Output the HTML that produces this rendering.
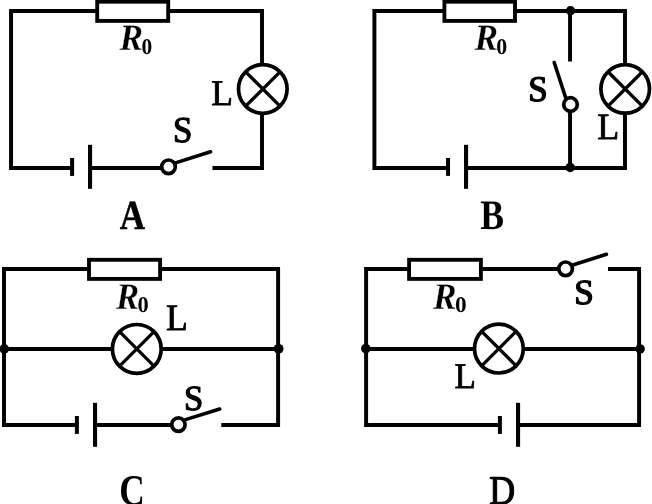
<!DOCTYPE html>
<html>
<head>
<meta charset="utf-8">
<title>Circuit diagrams A B C D</title>
<style>
html,body{margin:0;padding:0;background:#fff;}
body{width:652px;height:504px;overflow:hidden;}
svg{display:block;will-change:transform;}
text{font-family:"Liberation Serif",serif;font-size:40px;fill:#000;text-rendering:geometricPrecision;}
.reg{font-weight:normal;font-style:normal;}
.bold{font-weight:bold;font-style:normal;}
.bi{font-weight:bold;font-style:italic;}
.w{fill:none;stroke:#000;stroke-width:3.95;stroke-linecap:butt;stroke-linejoin:miter;}
.p{fill:none;stroke:#000;stroke-width:4.1;}
.s{fill:none;stroke:#000;stroke-width:4.0;}
.r{fill:#fff;stroke:#000;stroke-width:3.85;}
.c{fill:#fff;stroke:#000;stroke-width:3.7;}
.x{fill:none;stroke:#000;stroke-width:3.3;}
.arm{fill:none;stroke:#000;stroke-width:3.6;stroke-linecap:round;}
.dot{fill:#000;}
</style>
</head>
<body>
<svg width="652" height="504" viewBox="0 0 652 504">
<rect x="0" y="0" width="652" height="504" fill="#fff"/>
<g id="A">
<path class="w" d="M97 10.95 H11.05 V167.9 H72.1"/>
<path class="w" d="M168 10.95 H262.0 V64"/>
<path class="w" d="M262.0 113 V167.9 H212.5"/>
<path class="w" d="M90 167.9 H162"/>
<rect class="r" x="97.20" y="1.70" width="71.00" height="19.20"/>
<line class="s" x1="72.1" y1="158" x2="72.1" y2="175.9"/>
<line class="p" x1="90.05" y1="144.8" x2="90.05" y2="188.8"/>
<circle class="c" cx="262.80" cy="89.00" r="24.30"/><path class="x" d="M245.62 71.82 L279.98 106.18 M279.98 71.82 L245.62 106.18"/>
<circle class="c" cx="168.5" cy="166.8" r="6.8"/>
<line class="arm" x1="175.5" y1="162.9" x2="210.6" y2="151.8"/>
<text class="bi" transform="matrix(0.8844 0 0 0.9316 119.402 50.450)" stroke="#fff" stroke-width="0.330" stroke-linejoin="round">R</text>
<text class="bold" transform="matrix(0.5368 0 0 0.5631 141.382 53.980)">0</text>
<text class="reg" transform="matrix(0.8909 0 0 0.9049 211.273 104.800)" stroke="#000" stroke-width="0.891" stroke-linejoin="round">L</text>
<text class="reg" transform="matrix(0.8719 0 0 0.9116 173.067 141.744)" stroke="#000" stroke-width="1.346" stroke-linejoin="round">S</text>
<text class="bold" transform="matrix(0.8793 0 0 1.0376 119.757 228.800)" stroke="#000" stroke-width="0.417" stroke-linejoin="round">A</text>
</g>
<g id="B">
<path class="w" d="M445 10.95 H374.4 V167.9 H448"/>
<path class="w" d="M515 10.95 H625.0 V64"/>
<path class="w" d="M625.0 113 V167.9 H466"/>
<path class="w" d="M570.05 10.95 V61.5"/>
<path class="w" d="M570.05 111 V167.9"/>
<rect class="r" x="444.40" y="1.70" width="70.60" height="19.20"/>
<line class="s" x1="448.05" y1="158" x2="448.05" y2="175.9"/>
<line class="p" x1="466.05" y1="144.8" x2="466.05" y2="188.8"/>
<circle class="c" cx="625.20" cy="88.90" r="24.30"/><path class="x" d="M608.02 71.72 L642.38 106.08 M642.38 71.72 L608.02 106.08"/>
<circle class="c" cx="570.5" cy="104.5" r="6.8"/>
<line class="arm" x1="554.2" y1="62.5" x2="565.6" y2="97.5"/>
<circle class="dot" cx="570.5" cy="10.7" r="4.7"/>
<circle class="dot" cx="570.2" cy="167.4" r="4.75"/>
<text class="bi" transform="matrix(0.8844 0 0 0.9316 474.402 50.450)" stroke="#fff" stroke-width="0.330" stroke-linejoin="round">R</text>
<text class="bold" transform="matrix(0.5486 0 0 0.5631 496.364 53.980)">0</text>
<text class="reg" transform="matrix(0.8719 0 0 0.9005 528.167 101.148)" stroke="#000" stroke-width="1.580" stroke-linejoin="round">S</text>
<text class="reg" transform="matrix(0.9004 0 0 0.9278 597.262 138.600)" stroke="#000" stroke-width="0.875" stroke-linejoin="round">L</text>
<text class="bold" transform="matrix(0.8915 0 0 1.0491 480.208 228.877)">B</text>
</g>
<g id="C">
<path class="w" d="M89 269 H4.0 V424.95 H77"/>
<path class="w" d="M160 269 H278.1 V424.95 H221.3"/>
<path class="w" d="M95 424.95 H172"/>
<path class="w" d="M4.0 348.95 H112"/>
<path class="w" d="M161.5 348.95 H278.1"/>
<rect class="r" x="89.00" y="259.80" width="71.10" height="19.10"/>
<line class="s" x1="76.9" y1="416" x2="76.9" y2="433.9"/>
<line class="p" x1="95.05" y1="402.8" x2="95.05" y2="446.8"/>
<circle class="c" cx="136.80" cy="348.90" r="24.40"/><path class="x" d="M119.55 331.65 L154.05 366.15 M154.05 331.65 L119.55 366.15"/>
<circle class="c" cx="178.4" cy="424.6" r="6.7"/>
<line class="arm" x1="185.5" y1="419.6" x2="219.7" y2="409.0"/>
<circle class="dot" cx="4.3" cy="348.8" r="4.8"/>
<circle class="dot" cx="278.6" cy="348.8" r="4.9"/>
<text class="bi" transform="matrix(0.8685 0 0 0.9392 116.001 308.850)" stroke="#fff" stroke-width="0.332" stroke-linejoin="round">R</text>
<text class="bold" transform="matrix(0.5604 0 0 0.5631 137.546 311.980)">0</text>
<text class="reg" transform="matrix(0.8909 0 0 0.9278 165.973 329.600)" stroke="#000" stroke-width="0.880" stroke-linejoin="round">L</text>
<text class="reg" transform="matrix(0.8660 0 0 0.8856 184.083 410.154)" stroke="#000" stroke-width="1.370" stroke-linejoin="round">S</text>
<text class="bold" transform="matrix(0.8833 0 0 1.0940 119.275 504.873)">C</text>
</g>
<g id="D">
<path class="w" d="M409 269 H366.1 V424.95 H499.9"/>
<path class="w" d="M481 269 H559"/>
<path class="w" d="M608 269 H639.1 V424.95 H518"/>
<path class="w" d="M366.1 348.95 H475"/>
<path class="w" d="M523 348.95 H639.1"/>
<rect class="r" x="409.10" y="259.80" width="71.80" height="19.10"/>
<line class="s" x1="499.9" y1="416" x2="499.9" y2="433.9"/>
<line class="p" x1="518.05" y1="402.8" x2="518.05" y2="446.8"/>
<circle class="c" cx="498.90" cy="348.60" r="24.40"/><path class="x" d="M481.65 331.35 L516.15 365.85 M516.15 331.35 L481.65 365.85"/>
<circle class="c" cx="565.6" cy="268.8" r="6.8"/>
<line class="arm" x1="572.8" y1="265" x2="606.4" y2="254.3"/>
<circle class="dot" cx="365.8" cy="348.6" r="4.8"/>
<circle class="dot" cx="640.1" cy="348.9" r="4.75"/>
<text class="bi" transform="matrix(0.8844 0 0 0.9392 433.102 308.850)" stroke="#fff" stroke-width="0.329" stroke-linejoin="round">R</text>
<text class="bold" transform="matrix(0.5840 0 0 0.5631 455.010 311.980)">0</text>
<text class="reg" transform="matrix(0.8777 0 0 0.8819 574.151 304.156)" stroke="#000" stroke-width="1.591" stroke-linejoin="round">S</text>
<text class="reg" transform="matrix(0.8765 0 0 0.9049 454.490 388.000)" stroke="#000" stroke-width="0.898" stroke-linejoin="round">L</text>
<text class="reg" transform="matrix(0.8954 0 0 1.0164 489.318 504.071)" stroke="#000" stroke-width="1.151" stroke-linejoin="round">D</text>
</g>
</svg>
</body>
</html>
